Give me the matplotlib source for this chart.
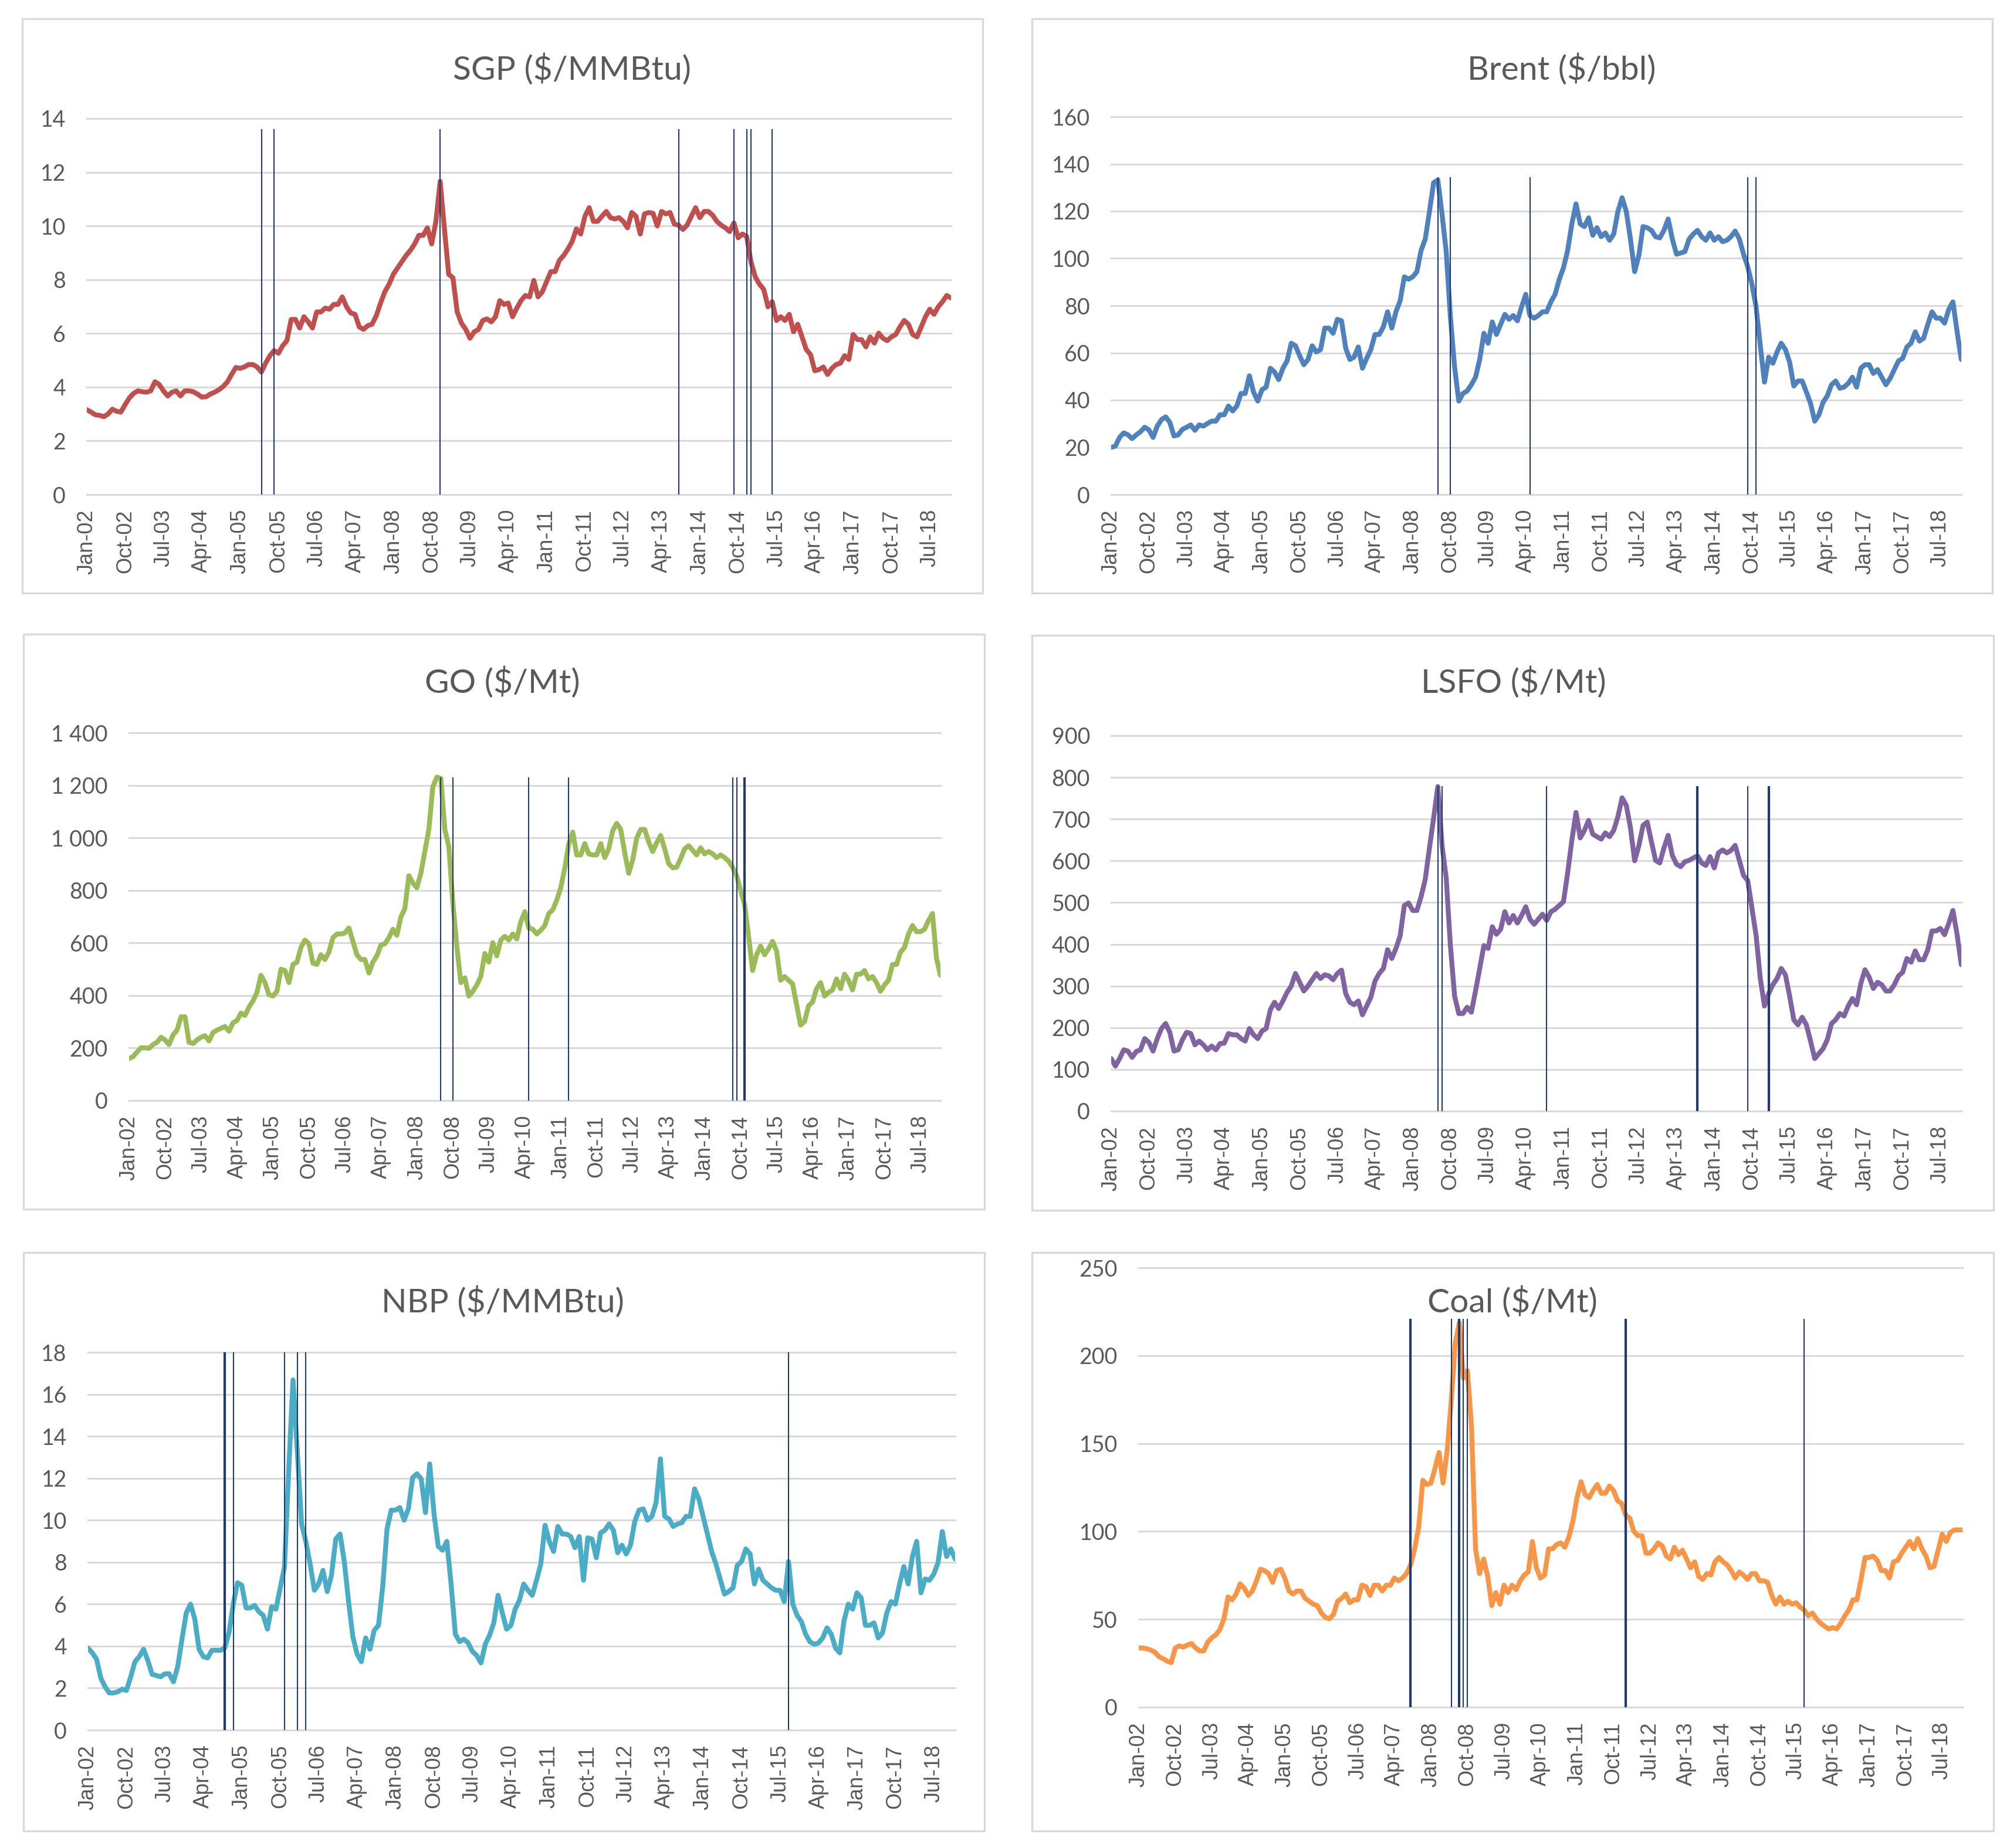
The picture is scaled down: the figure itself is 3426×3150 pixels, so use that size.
import matplotlib
matplotlib.use("Agg")
import matplotlib.pyplot as plt
import numpy as np
import pandas as pd
from matplotlib.patches import Rectangle
from matplotlib.ticker import FuncFormatter

# ---------------- data (monthly, Jan-2002 .. Dec-2018) ----------------
months = pd.date_range("2002-01-01", periods=204, freq="MS")
month_labels = [d.strftime("%b-%y") for d in months]

sgp = [3.16, 3.07, 2.97, 2.95, 2.9, 3.0, 3.18, 3.1, 3.07, 3.35, 3.6, 3.77,
       3.86, 3.83, 3.81, 3.86, 4.2, 4.1, 3.86, 3.67, 3.81, 3.86, 3.67, 3.86,
       3.86, 3.83, 3.74, 3.63, 3.64, 3.74, 3.81, 3.9, 4.02, 4.19, 4.47, 4.73,
       4.7, 4.75, 4.84, 4.84, 4.75, 4.56, 4.89, 5.17, 5.36, 5.26, 5.54, 5.73,
       6.52, 6.52, 6.2, 6.62, 6.43, 6.2, 6.8, 6.8, 6.94, 6.9, 7.08, 7.08,
       7.36, 6.99, 6.76, 6.71, 6.24, 6.15, 6.29, 6.34, 6.66, 7.13, 7.55, 7.83,
       8.2, 8.44, 8.67, 8.9, 9.09, 9.33, 9.65, 9.65, 9.93, 9.33, 10.17, 11.66,
       9.89, 8.2, 8.07, 6.8, 6.38, 6.15, 5.82, 6.06, 6.15, 6.48, 6.54, 6.43,
       6.62, 7.22, 7.08, 7.13, 6.62, 6.94, 7.22, 7.41, 7.36, 7.97, 7.36, 7.55,
       7.93, 8.3, 8.3, 8.72, 8.9, 9.14, 9.42, 9.89, 9.7, 10.36, 10.68, 10.17,
       10.17, 10.36, 10.54, 10.31, 10.26, 10.31, 10.17, 9.93, 10.5, 10.36, 9.7, 10.45,
       10.5, 10.47, 10.0, 10.54, 10.45, 10.5, 10.07, 10.03, 9.87, 10.03, 10.36, 10.68,
       10.31, 10.54, 10.54, 10.4, 10.17, 10.03, 9.93, 9.79, 10.11, 9.56, 9.7, 9.61,
       8.67, 8.11, 7.83, 7.64, 6.99, 7.18, 6.48, 6.62, 6.48, 6.71, 6.06, 6.34,
       5.87, 5.4, 5.21, 4.61, 4.65, 4.75, 4.47, 4.7, 4.84, 4.89, 5.17, 5.03,
       5.96, 5.77, 5.77, 5.5, 5.87, 5.64, 6.01, 5.82, 5.73, 5.87, 5.96, 6.24,
       6.48, 6.34, 5.96, 5.87, 6.24, 6.62, 6.9, 6.71, 6.99, 7.18, 7.41, 7.32]

brent = [20.0, 20.5, 24.2, 26.1, 25.3, 23.7, 25.3, 26.6, 28.5, 27.4, 24.2, 29.0,
         31.7, 32.9, 30.6, 24.8, 25.3, 27.6, 28.5, 29.5, 27.2, 29.5, 29.0, 30.1,
         31.1, 31.1, 33.8, 33.8, 37.5, 35.4, 37.5, 42.8, 42.8, 50.3, 43.4, 39.6,
         44.4, 45.5, 53.5, 51.9, 48.7, 53.5, 56.6, 64.1, 63.0, 58.8, 55.0, 57.2,
         63.0, 60.4, 61.4, 70.5, 70.5, 68.3, 74.2, 73.6, 62.0, 57.2, 58.2, 62.5,
         53.5, 57.7, 61.4, 67.8, 67.8, 71.0, 77.4, 70.5, 77.4, 82.1, 92.2, 91.2,
         92.2, 94.4, 103.4, 108.2, 119.9, 132.1, 133.2, 118.8, 102.9, 75.2, 54.0, 39.6,
         42.8, 43.9, 46.5, 49.7, 57.2, 68.3, 64.1, 73.1, 67.8, 72.1, 76.3, 74.2,
         75.8, 73.6, 79.5, 84.8, 75.8, 74.7, 75.8, 77.4, 77.4, 81.6, 84.8, 91.2,
         96.0, 103.4, 114.6, 123.1, 114.6, 113.5, 117.2, 109.8, 113.0, 109.2, 110.8, 107.7,
         110.3, 119.9, 125.7, 119.9, 108.2, 94.4, 101.3, 113.5, 113.0, 111.9, 109.2, 108.7,
         111.9, 116.7, 108.2, 101.8, 102.3, 102.9, 108.2, 110.3, 111.9, 109.2, 107.7, 110.8,
         107.7, 109.2, 107.1, 107.7, 109.2, 111.6, 108.2, 101.8, 96.5, 89.1, 79.5, 63.0,
         47.6, 58.2, 55.6, 60.4, 64.1, 61.4, 56.1, 46.0, 48.1, 48.1, 43.4, 38.6,
         31.1, 33.8, 39.1, 41.8, 46.5, 48.1, 45.0, 45.5, 47.1, 49.7, 45.5, 53.5,
         55.0, 55.0, 51.3, 52.9, 49.7, 46.5, 49.2, 52.9, 56.6, 57.7, 62.5, 64.1,
         68.9, 65.0, 66.2, 72.1, 77.4, 74.7, 74.7, 72.6, 78.4, 81.6, 68.9, 57.2]

go = [160, 167, 185, 201, 201, 199, 213, 222, 241, 231, 213, 250,
      268, 319, 319, 222, 217, 231, 241, 247, 227, 259, 268, 275,
      282, 264, 296, 305, 333, 324, 356, 379, 412, 477, 449, 403,
      398, 416, 500, 495, 449, 518, 527, 583, 611, 597, 523, 518,
      555, 537, 565, 620, 634, 634, 638, 657, 606, 555, 537, 537,
      486, 527, 551, 592, 597, 620, 652, 629, 699, 731, 856, 828,
      810, 865, 948, 1032, 1194, 1231, 1226, 1032, 967, 754, 588, 449,
      467, 398, 416, 440, 472, 560, 527, 601, 551, 611, 625, 611,
      634, 615, 680, 719, 657, 652, 634, 648, 666, 712, 726, 763,
      810, 884, 976, 1022, 935, 935, 978, 939, 935, 935, 978, 925,
      958, 1027, 1055, 1032, 944, 865, 916, 999, 1032, 1032, 985, 948,
      981, 1009, 958, 902, 886, 888, 921, 958, 970, 953, 935, 962,
      939, 948, 939, 925, 935, 925, 911, 888, 856, 800, 745, 625,
      495, 555, 588, 555, 578, 606, 569, 458, 472, 458, 444, 366,
      287, 301, 361, 375, 426, 449, 398, 412, 421, 463, 426, 481,
      458, 421, 481, 481, 495, 463, 472, 449, 416, 440, 458, 518,
      518, 565, 583, 634, 666, 643, 643, 652, 685, 712, 541, 477]

lsfo = [126, 108, 126, 147, 144, 129, 143, 147, 174, 165, 144, 174,
        198, 210, 189, 144, 147, 171, 189, 186, 159, 168, 159, 147,
        156, 147, 162, 163, 186, 183, 183, 174, 168, 198, 183, 174,
        192, 198, 243, 261, 246, 264, 285, 300, 330, 309, 288, 300,
        315, 330, 318, 327, 324, 315, 330, 338, 282, 261, 255, 264,
        231, 252, 273, 312, 330, 342, 387, 366, 390, 420, 493, 499,
        481, 481, 514, 556, 631, 703, 778, 637, 559, 397, 276, 234,
        234, 249, 237, 288, 342, 397, 390, 442, 424, 436, 478, 451,
        469, 451, 469, 490, 460, 448, 460, 472, 457, 478, 484, 493,
        502, 571, 649, 716, 655, 673, 697, 664, 658, 652, 667, 658,
        673, 706, 751, 733, 679, 600, 636, 685, 693, 646, 601, 595,
        631, 661, 613, 592, 586, 598, 601, 607, 612, 595, 589, 610,
        583, 619, 626, 619, 625, 637, 601, 565, 553, 487, 421, 318,
        252, 282, 303, 318, 342, 327, 276, 219, 207, 225, 207, 168,
        126, 138, 150, 171, 210, 219, 234, 228, 252, 270, 255, 306,
        339, 321, 294, 309, 303, 288, 288, 303, 324, 333, 366, 357,
        384, 363, 363, 387, 432, 432, 438, 423, 450, 481, 423, 351]

nbp = [3.91, 3.68, 3.38, 2.48, 2.06, 1.77, 1.77, 1.83, 1.95, 1.89, 2.54, 3.26,
       3.5, 3.85, 3.32, 2.66, 2.6, 2.54, 2.68, 2.68, 2.3, 3.02, 4.33, 5.58,
       6.0, 5.29, 3.85, 3.5, 3.44, 3.8, 3.8, 3.8, 3.91, 4.63, 6.0, 7.02,
       6.9, 5.82, 5.82, 5.94, 5.64, 5.47, 4.81, 5.88, 5.76, 6.78, 7.79, 12.45,
       16.68, 13.28, 9.82, 8.99, 7.91, 6.66, 6.96, 7.61, 6.6, 7.37, 9.1, 9.34,
       8.03, 6.12, 4.45, 3.62, 3.26, 4.39, 3.85, 4.75, 4.99, 6.84, 9.58, 10.48,
       10.48, 10.6, 10.0, 10.54, 12.03, 12.21, 11.97, 10.36, 12.68, 10.3, 8.75, 8.57,
       8.99, 6.96, 4.57, 4.21, 4.33, 4.15, 3.74, 3.56, 3.2, 4.09, 4.51, 5.11,
       6.42, 5.58, 4.81, 4.99, 5.76, 6.18, 6.96, 6.66, 6.42, 7.14, 7.91, 9.76,
       8.99, 8.51, 9.7, 9.34, 9.34, 9.22, 8.69, 9.22, 7.14, 9.16, 9.1, 8.21,
       9.4, 9.52, 9.82, 9.52, 8.45, 8.81, 8.39, 8.81, 9.94, 10.48, 10.54, 10.0,
       10.18, 10.84, 12.92, 10.18, 10.06, 9.7, 9.82, 9.88, 10.18, 10.18, 11.49, 11.01,
       10.18, 9.34, 8.51, 7.91, 7.2, 6.48, 6.6, 6.78, 7.85, 8.03, 8.63, 8.39,
       6.96, 7.67, 7.14, 6.96, 6.78, 6.66, 6.66, 6.12, 8.03, 6.0, 5.47, 5.17,
       4.57, 4.21, 4.09, 4.15, 4.39, 4.87, 4.57, 3.91, 3.68, 5.23, 6.0, 5.76,
       6.54, 6.3, 4.99, 4.99, 5.11, 4.39, 4.63, 5.58, 6.12, 6.0, 6.96, 7.79,
       6.96, 8.27, 8.99, 6.54, 7.2, 7.14, 7.43, 7.97, 9.46, 8.27, 8.63, 8.15]

coal = [33.7, 33.7, 33.2, 32.5, 31.2, 28.7, 27.6, 26.2, 25.4, 33.7, 34.9, 34.2,
        35.4, 36.2, 33.7, 32.0, 32.0, 37.0, 39.5, 41.2, 44.2, 50.3, 62.7, 61.1,
        64.4, 70.2, 67.7, 63.6, 66.1, 71.9, 78.5, 77.7, 76.0, 71.0, 77.7, 78.5,
        73.5, 66.1, 64.4, 66.1, 66.1, 61.9, 60.3, 58.6, 57.8, 53.6, 51.1, 50.3,
        52.8, 60.3, 61.9, 64.4, 59.4, 61.1, 61.1, 69.4, 68.6, 63.6, 69.4, 69.4,
        66.1, 69.4, 69.4, 73.5, 71.9, 73.5, 76.0, 81.0, 90.1, 102.6, 129.1, 126.7,
        127.5, 135.8, 144.9, 127.5, 145.7, 174.0, 207.2, 218.8, 187.2, 191.4, 160.0, 90.0,
        76.0, 84.3, 74.4, 57.8, 65.2, 58.6, 69.4, 65.2, 69.4, 66.9, 71.9, 75.2,
        76.9, 94.3, 79.3, 73.5, 75.2, 90.1, 90.1, 92.6, 93.5, 91.0, 96.8, 105.9,
        119.2, 128.3, 120.9, 119.2, 123.3, 126.7, 121.7, 121.7, 125.8, 123.3, 117.5, 115.9,
        109.2, 107.6, 100.1, 97.6, 97.6, 87.6, 87.6, 90.1, 93.5, 91.8, 86.0, 84.3,
        91.0, 86.8, 89.3, 84.3, 79.3, 82.7, 74.4, 72.7, 76.0, 75.2, 82.7, 85.2,
        82.7, 81.0, 77.7, 73.5, 76.9, 75.2, 72.7, 76.0, 76.0, 71.9, 71.9, 71.0,
        63.6, 58.6, 62.7, 58.6, 60.3, 58.6, 59.4, 56.9, 55.3, 52.0, 53.6, 50.3,
        47.8, 46.1, 44.5, 45.3, 44.5, 47.8, 52.0, 55.3, 61.1, 61.1, 72.7, 85.2,
        85.2, 86.0, 83.5, 77.7, 77.7, 73.5, 82.7, 83.5, 87.6, 91.0, 94.3, 90.1,
        95.9, 90.1, 86.0, 79.3, 80.2, 89.3, 98.4, 94.3, 99.3, 100.9, 100.9, 100.9]

# structural-break months (index into months) and the height of the marker lines
sgp_breaks = [41, 44, 83, 139, 152, 155, 156, 161]
brent_breaks = [78, 81, 100, 152, 154]
go_breaks = [78, 81, 100, 110, 151, 152, 154]
lsfo_breaks = [78, 79, 104, 140, 152, 157]
nbp_breaks = [32, 34, 46, 49, 51, 164]
coal_breaks = [67, 77, 79, 80, 81, 120, 164]

titles = ["SGP ($/MMBtu)", "Brent ($/bbl)", "GO ($/Mt)", "LSFO ($/Mt)",
          "NBP ($/MMBtu)", "Coal ($/Mt)"]

# ---------------- layout / styles ----------------
W, H, DPI = 3426, 3150, 200
fig = plt.figure(figsize=(W / DPI, H / DPI), dpi=DPI)
fig.patch.set_facecolor("white")

TITLE_FONT = ["Lato", "DejaVu Sans"]
Y_FONT = ["Lato", "DejaVu Sans"]
X_FONT = ["Liberation Sans", "DejaVu Sans"]
TXT = "#595959"
GRID = "#D9D9D9"
BREAK_C = "#1F3A6E"

panels = [
    dict(values=sgp, title=titles[0], color="#C0504D", ymax=14, step=2,
         breaks=sgp_breaks, top=13.6, thick=[],
         ax_px=(148, 202, 1621, 843), box_px=(38, 32, 1675, 1011), t_px=(975, 118)),
    dict(values=brent, title=titles[1], color="#4F81BD", ymax=160, step=20,
         breaks=brent_breaks, top=134.5, thick=[],
         ax_px=(1894, 199, 3343, 843), box_px=(1759, 32, 3396, 1011), t_px=(2662, 118)),
    dict(values=go, title=titles[2], color="#9BBB59", ymax=1400, step=200,
         breaks=go_breaks, top=1231, thick=[154],
         ax_px=(220, 1249, 1603, 1876), box_px=(40, 1081, 1678, 2061), t_px=(856, 1163)),
    dict(values=lsfo, title=titles[3], color="#8064A2", ymax=900, step=100,
         breaks=lsfo_breaks, top=779, thick=[140, 157],
         ax_px=(1894, 1254, 3343, 1894), box_px=(1759, 1083, 3398, 2063), t_px=(2580, 1163)),
    dict(values=nbp, title=titles[4], color="#4BACC6", ymax=18, step=2,
         breaks=nbp_breaks, top=18, thick=[32],
         ax_px=(150, 2305, 1628, 2949), box_px=(40, 2135, 1678, 3121), t_px=(857, 2219)),
    dict(values=coal, title=titles[5], color="#F79646", ymax=250, step=50,
         breaks=coal_breaks, top=221, thick=[67, 79, 120],
         ax_px=(1941, 2161, 3345, 2910), box_px=(1759, 2135, 3398, 3121), t_px=(2578, 2219)),
]


def space_thousands(v, pos=None):
    return f"{int(round(v)):,}".replace(",", " ")


x = np.arange(len(months))
tick_idx = list(range(0, len(months), 9))

for p in panels:
    # chart-area border
    bx0, by0, bx1, by1 = p["box_px"]
    fig.patches.append(Rectangle((bx0 / W, 1 - by1 / H), (bx1 - bx0) / W, (by1 - by0) / H,
                                 transform=fig.transFigure, fill=False,
                                 edgecolor=GRID, linewidth=1.2, zorder=0))
    x0, y0, x1, y1 = p["ax_px"]
    ax = fig.add_axes([x0 / W, 1 - y1 / H, (x1 - x0) / W, (y1 - y0) / H])
    ax.set_facecolor("none")
    ax.plot(x, p["values"], color=p["color"], lw=3.0, solid_joinstyle="round",
            solid_capstyle="round", zorder=3)
    lws = [1.5 if b in p["thick"] else 0.75 for b in p["breaks"]]
    ax.vlines(p["breaks"], 0, p["top"], colors=BREAK_C, linewidth=lws, zorder=4)

    ax.set_xlim(0, len(months) - 1)
    ax.set_ylim(0, p["ymax"])
    yt = np.arange(0, p["ymax"] + p["step"] / 2, p["step"])
    ax.set_yticks(yt)
    if p["ymax"] >= 1000:
        ax.yaxis.set_major_formatter(FuncFormatter(space_thousands))
    else:
        ax.yaxis.set_major_formatter(FuncFormatter(lambda v, pos: f"{int(round(v))}"))
    ax.set_xticks(tick_idx)
    ax.set_xticklabels([month_labels[i] for i in tick_idx], rotation=90,
                       family=X_FONT, fontsize=13, color=TXT)
    for lab in ax.get_yticklabels():
        lab.set_family(Y_FONT)
        lab.set_fontsize(13.5)
        lab.set_color(TXT)
    ax.tick_params(axis="both", length=0)
    ax.tick_params(axis="y", pad=13)
    ax.tick_params(axis="x", pad=9)
    ax.yaxis.grid(True, color=GRID, linewidth=1.1, zorder=0)
    ax.xaxis.grid(False)
    ax.set_axisbelow(True)
    for s in ax.spines.values():
        s.set_visible(False)
    for gl in ax.get_ygridlines():
        gl.set_clip_on(False)

    tx, ty = p["t_px"]
    fig.text(tx / W, 1 - ty / H, p["title"], ha="center", va="center",
             family=TITLE_FONT, fontsize=20.5, color=TXT, zorder=5)

fig.savefig("out.png", dpi=DPI, facecolor="white")
